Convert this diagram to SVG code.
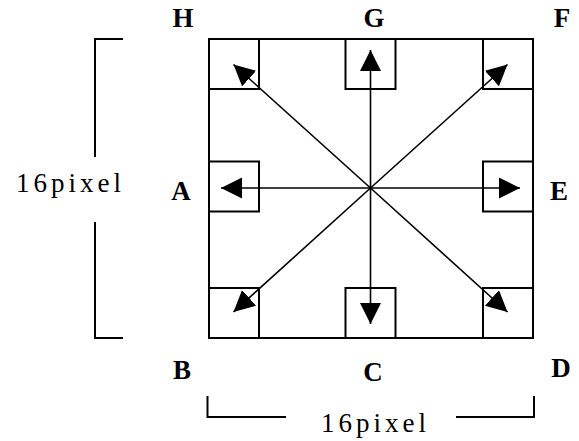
<svg xmlns="http://www.w3.org/2000/svg" width="579" height="441" viewBox="0 0 579 441">
<style>
.box{fill:none;stroke:#000;stroke-width:2}
.ln{fill:none;stroke:#000;stroke-width:1.6}
.br{fill:none;stroke:#000;stroke-width:2}
.lbl{font-family:"Liberation Serif","Times New Roman",serif;font-weight:bold;font-size:27px;text-anchor:middle;fill:#000}
.dim{font-family:"Liberation Serif","Times New Roman",serif;font-size:27px;letter-spacing:4px;fill:#000}
</style>
<defs>
<marker id="ah" markerUnits="userSpaceOnUse" markerWidth="22" markerHeight="22" refX="21" refY="10.5" orient="auto" viewBox="0 0 22 22">
<path d="M0,0 L21,10.5 L0,21 z" fill="#000"/>
</marker>
</defs>
<rect x="0" y="0" width="579" height="441" fill="#fff"/>
<g id="frame">
<rect class="box" x="209" y="39" width="324" height="299"/>
</g>
<g id="H"><rect class="box" x="209" y="39" width="50" height="50"/><text class="lbl" x="183" y="27">H</text></g>
<g id="G"><rect class="box" x="345.5" y="39" width="50" height="50"/><text class="lbl" x="374" y="27">G</text></g>
<g id="F"><rect class="box" x="483" y="39" width="50" height="50"/><text class="lbl" x="562" y="27">F</text></g>
<g id="A"><rect class="box" x="209" y="161.5" width="50" height="50"/><text class="lbl" x="181" y="200">A</text></g>
<g id="E"><rect class="box" x="483" y="161.5" width="50" height="50"/><text class="lbl" x="559" y="200">E</text></g>
<g id="B"><rect class="box" x="209" y="288" width="50" height="50"/><text class="lbl" x="182" y="379">B</text></g>
<g id="C"><rect class="box" x="345.5" y="288" width="50" height="50"/><text class="lbl" x="373" y="381">C</text></g>
<g id="D"><rect class="box" x="483" y="288" width="50" height="50"/><text class="lbl" x="561" y="377">D</text></g>
<g id="connectors">
<line class="ln" x1="370.5" y1="188" x2="370.5" y2="50" marker-end="url(#ah)"/>
<line class="ln" x1="370.5" y1="188" x2="370.5" y2="324" marker-end="url(#ah)"/>
<line class="ln" x1="370.5" y1="188" x2="221" y2="188" marker-end="url(#ah)"/>
<line class="ln" x1="370.5" y1="188" x2="520" y2="188" marker-end="url(#ah)"/>
<line class="ln" x1="370.5" y1="188" x2="233.5" y2="64.5" marker-end="url(#ah)"/>
<line class="ln" x1="370.5" y1="188" x2="507.5" y2="64.5" marker-end="url(#ah)"/>
<line class="ln" x1="370.5" y1="188" x2="233.5" y2="312" marker-end="url(#ah)"/>
<line class="ln" x1="370.5" y1="188" x2="507.5" y2="312" marker-end="url(#ah)"/>
</g>
<g id="dimension-vertical">
<path class="br" d="M123,39 H95 V157"/>
<path class="br" d="M95,222 V338 H123"/>
<text class="dim" x="16" y="192">16pixel</text>
</g>
<g id="dimension-horizontal">
<path class="br" d="M207.5,396 V417 H286"/>
<path class="br" d="M456,417 H534 V396"/>
<text class="dim" x="321" y="432">16pixel</text>
</g>
</svg>
